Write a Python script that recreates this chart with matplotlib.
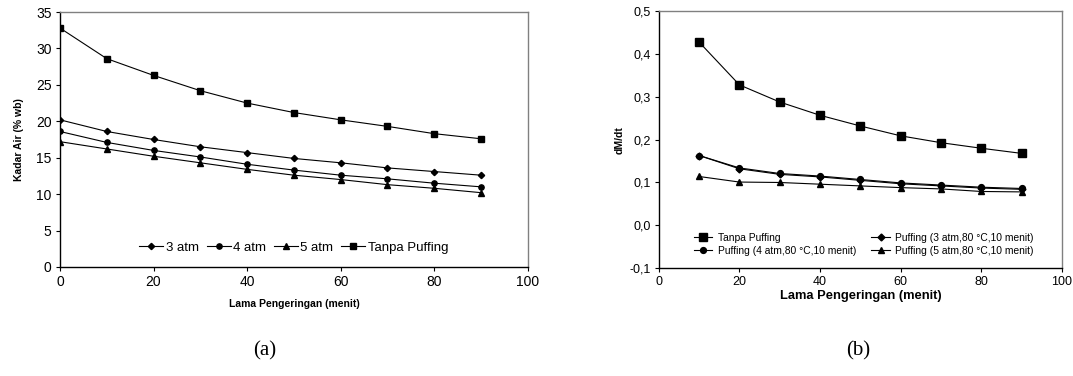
import matplotlib
matplotlib.use("Agg")
import matplotlib.pyplot as plt
from matplotlib.ticker import FuncFormatter

plt.rcParams['font.family'] = ['Liberation Sans', 'DejaVu Sans']

# (a) kadar air vs lama pengeringan
waktu_a = [0, 10, 20, 30, 40, 50, 60, 70, 80, 90]
atm3_a = [20.2, 18.6, 17.5, 16.5, 15.7, 14.9, 14.3, 13.6, 13.1, 12.6]
atm4_a = [18.6, 17.1, 16.0, 15.1, 14.1, 13.3, 12.6, 12.1, 11.5, 11.0]
atm5_a = [17.2, 16.2, 15.2, 14.3, 13.4, 12.6, 12.0, 11.3, 10.8, 10.2]
tanpa_a = [32.8, 28.6, 26.3, 24.2, 22.5, 21.2, 20.2, 19.3, 18.3, 17.6]

# (b) laju pengeringan dM/dt
waktu_b = [10, 20, 30, 40, 50, 60, 70, 80, 90]
tanpa_b = [0.428, 0.328, 0.288, 0.257, 0.232, 0.209, 0.193, 0.180, 0.168]
atm3_b = [0.163, 0.132, 0.119, 0.113, 0.105, 0.097, 0.092, 0.087, 0.084]
atm4_b = [0.163, 0.134, 0.121, 0.115, 0.107, 0.099, 0.094, 0.089, 0.086]
atm5_b = [0.114, 0.101, 0.100, 0.096, 0.092, 0.088, 0.085, 0.079, 0.078]

fig = plt.figure(figsize=(10.73, 3.76), dpi=100)
ax1 = fig.add_axes([0.0559, 0.290, 0.436, 0.678])
ax2 = fig.add_axes([0.614, 0.287, 0.3756, 0.683])

kw = dict(color='black', lw=0.8)
ax1.plot(waktu_a, atm3_a, marker='D', ms=3.2, label='3 atm', **kw)
ax1.plot(waktu_a, atm4_a, marker='o', ms=3.8, label='4 atm', **kw)
ax1.plot(waktu_a, atm5_a, marker='^', ms=4.2, label='5 atm', **kw)
ax1.plot(waktu_a, tanpa_a, marker='s', ms=3.8, label='Tanpa Puffing', **kw)
ax1.set_xlim(0, 100)
ax1.set_ylim(0, 35)
ax1.set_xticks(range(0, 101, 20))
ax1.set_yticks(range(0, 36, 5))
ax1.set_xlabel('Lama Pengeringan (menit)', fontsize=7.5, fontweight='bold', labelpad=7)
ax1.set_ylabel('Kadar Air (% wb)', fontsize=7.5, fontweight='bold', labelpad=9)
ax1.legend(loc='center', bbox_to_anchor=(0.5, 0.075), ncol=4, frameon=False,
           fontsize=9.5, handlelength=1.8, handletextpad=0.2, columnspacing=0.6,
           borderaxespad=0, borderpad=0)

l_t, = ax2.plot(waktu_b, tanpa_b, marker='s', ms=5.5, label='Tanpa Puffing', **kw)
l_3, = ax2.plot(waktu_b, atm3_b, marker='D', ms=3.5, label='Puffing (3 atm,80 °C,10 menit)', **kw)
l_4, = ax2.plot(waktu_b, atm4_b, marker='o', ms=4.2, label='Puffing (4 atm,80 °C,10 menit)', **kw)
l_5, = ax2.plot(waktu_b, atm5_b, marker='^', ms=4.5, label='Puffing (5 atm,80 °C,10 menit)', **kw)
ax2.set_xlim(0, 100)
ax2.set_ylim(-0.1, 0.5)
ax2.set_xticks(range(0, 101, 20))
ax2.set_yticks([-0.1, 0.0, 0.1, 0.2, 0.3, 0.4, 0.5])
ax2.yaxis.set_major_formatter(FuncFormatter(lambda v, p: ('%.1f' % v).replace('.', ',')))
ax2.set_xlabel('Lama Pengeringan (menit)', fontsize=9.3, fontweight='bold', labelpad=1)
ax2.set_ylabel('dM/dt', fontsize=7.5, fontweight='bold', labelpad=3)
ax2.legend([l_t, l_4, l_3, l_5], [l_t.get_label(), l_4.get_label(), l_3.get_label(), l_5.get_label()],
           loc='center left', bbox_to_anchor=(0.087, 0.093), ncol=2, frameon=False,
           fontsize=7.4, handlelength=1.8, handletextpad=0.5, columnspacing=1.5, labelspacing=0.3,
           borderaxespad=0, borderpad=0)

for ax in (ax1, ax2):
    ax.spines['left'].set_color('black')
    ax.spines['bottom'].set_color('black')
    ax.spines['top'].set_color('#808080')
    ax.spines['right'].set_color('#808080')
    for s in ax.spines.values():
        s.set_linewidth(1.0)
    ax.tick_params(direction='out', length=3, width=0.8, pad=3)

ax1.tick_params(labelsize=10)
ax2.tick_params(labelsize=9)

fig.text(0.247, 0.055, '(a)', ha='center', fontsize=15, family=['Liberation Serif'])
fig.text(0.800, 0.055, '(b)', ha='center', fontsize=15, family=['Liberation Serif'])

plt.savefig('out.png', dpi=100)
